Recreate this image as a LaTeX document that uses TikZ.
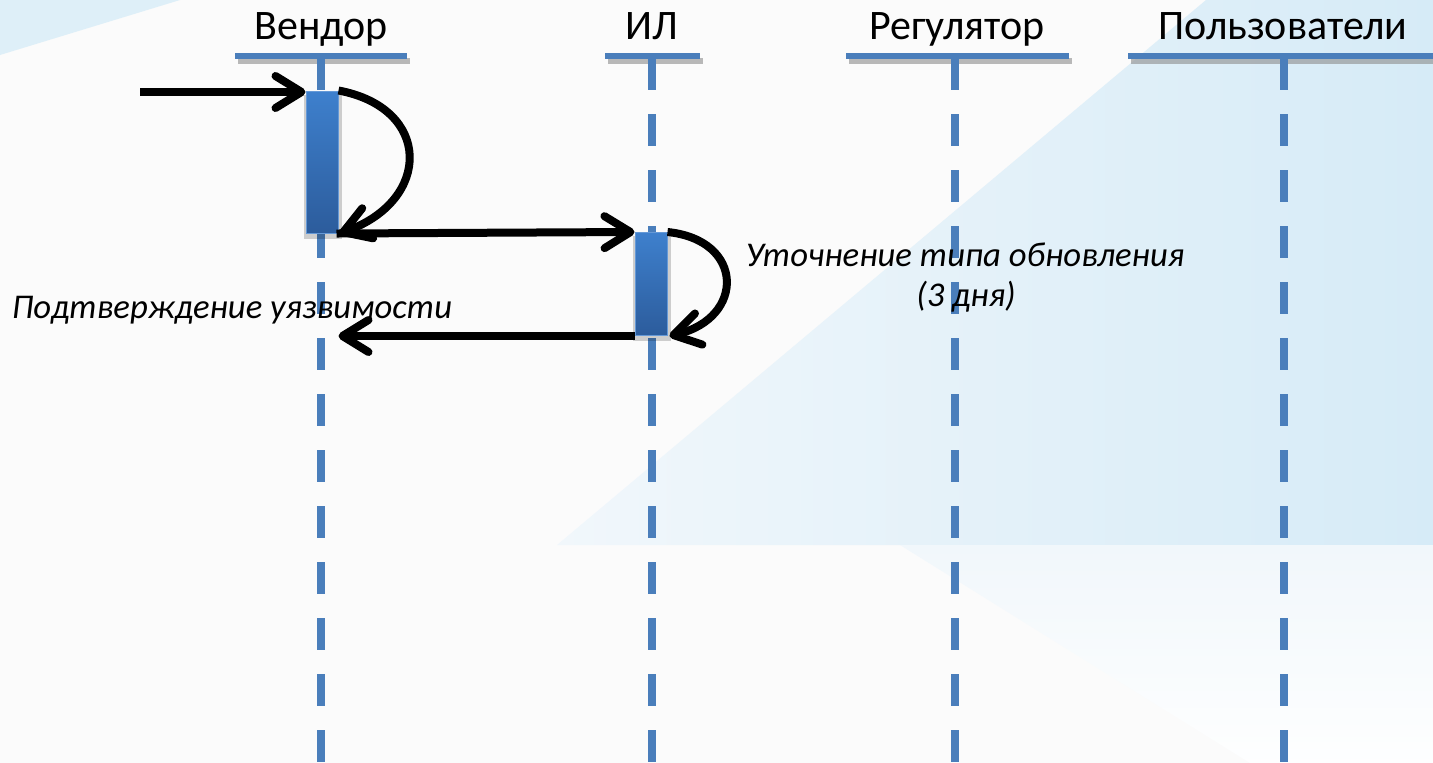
\documentclass[tikz,border=0pt]{standalone}
\usepackage{fontspec}
\setmainfont{Carlito}
\usetikzlibrary{arrows.meta,calc}
\definecolor{lifeblue}{RGB}{74,126,187}
\definecolor{bartop}{RGB}{62,128,205}
\definecolor{barbot}{RGB}{44,92,156}
\definecolor{bgblue}{RGB}{214,235,247}
\definecolor{bgpale}{RGB}{241,247,251}
\definecolor{bgcorner}{RGB}{222,239,248}
\tikzset{
  lifeline/.style={lifeblue,line width=8pt,dash pattern=on 32pt off 24pt},
  headline/.style={lifeblue,line width=6pt},
  headshadow/.style={black!45,line width=6pt,opacity=0.6},
  headtext/.style={font=\fontsize{42}{48}\selectfont,anchor=base,inner sep=0pt},
  msgtext/.style={font=\itshape\fontsize{34.7}{40}\selectfont,anchor=base,inner sep=0pt},
  actbar/.style={rectangle,minimum width=32pt,inner sep=0pt,draw=bartop!80!white,line width=1pt,top color=bartop,bottom color=barbot},
  msg/.style={line width=8pt,-{Straight Barb[length=26pt,width=32pt,line cap=round,line join=round]}},
}
\begin{document}
\begin{tikzpicture}[x=1pt,y=-1pt]
\useasboundingbox (0,0) rectangle (1433,763);
% background
\fill[white!98.5!black] (0,0) rectangle (1433,763);
\shade[left color=bgpale,right color=bgblue] (1206,0) -- (1433,0) -- (1433,545) -- (557,545) -- cycle;
\shade[top color=bgpale,bottom color=white!97!bgblue] (1433,545) -- (1433,763) -- (1250,763) -- (900,545) -- cycle;
\fill[bgcorner] (0,0) -- (180,0) -- (0,55) -- cycle;
% headers
\node[headtext] (hv) at (321,39) {Вендор};
\node[headtext] (hi) at (652,39) {ИЛ};
\node[headtext] (hr) at (957,39) {Регулятор};
\node[headtext] (hp) at (1283,39) {Пользователи};
\foreach \a/\b in {235/407,605/700,846/1069,1128/1433}{
  \draw[headshadow] (\a+3,61) -- (\b+3,61);
  \draw[headline] (\a,56) -- (\b,56);
}
% lifelines
\foreach \n/\x in {v/321,i/652,r/955,p/1284}{
  \coordinate (top\n) at (\x,58);
  \coordinate (bot\n) at (\x,763);
  \draw[lifeline] (top\n) -- (bot\n);
}
% activation bars
\fill[black,opacity=0.18] (304,95) rectangle (342,239);
\fill[black,opacity=0.18] (633,236) rectangle (671,341);
\node[actbar,minimum height=142pt] (bar1) at (322,162) {};
\node[actbar,minimum height=103pt] (bar2) at (651,284) {};
% messages
\coordinate (start) at (140,92);
\draw[msg] (start) -- (bar1.north west |- start);
\draw[msg] (bar1.north east) .. controls (432,108) and (432,200) .. ([xshift=1pt]bar1.south east);
\draw[msg,shorten <=-2pt] (bar1.south east) -- (bar2.north west);
\draw[msg] (bar2.north east) .. controls (745,240) and (745,318) .. ([xshift=2pt]bar2.south east);
\coordinate (ret) at (bar2.south west -| bar1.east);
\draw[msg] (bar2.south west) -- (ret);
% labels
\node[msgtext] (lconf) at (232,318) {Подтверждение уязвимости};
\node[msgtext] (ltype) at (965,266) {Уточнение типа обновления};
\node[msgtext] (ldays) at (966,306) {(3 дня)};
\end{tikzpicture}
\end{document}
